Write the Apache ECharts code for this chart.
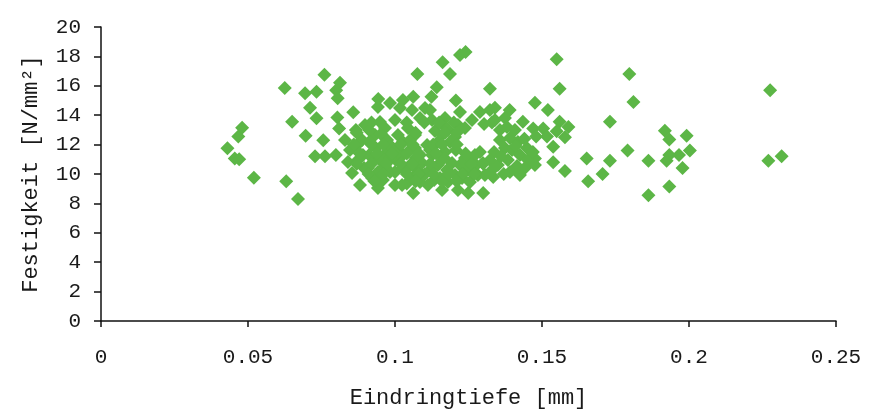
<!DOCTYPE html>
<html><head><meta charset="utf-8">
<script src="https://cdn.jsdelivr.net/npm/echarts@6/dist/echarts.min.js"></script>
<style>html,body{margin:0;padding:0;background:#fff}#c{width:885px;height:409px}</style>
</head><body><div id="c"></div>
<script>
const xTicks = [0, 0.05, 0.1, 0.15, 0.2, 0.25];
const yTicks = [0, 2, 4, 6, 8, 10, 12, 14, 16, 18, 20];
const xTitle = 'Eindringtiefe [mm]';
const yTitle = 'Festigkeit [N/mm²]';

const eindringtiefe = [
 0.043,0.0455,0.047,0.0467,0.048,0.052,0.0625,0.065,0.063,0.067,
 0.0694,0.0733,0.076,0.0813,0.080,0.0805,0.0711,0.0733,0.0804,0.081,0.0858,0.0943,0.0696,0.0756,0.0728,0.0762,0.0799,
 0.124,0.1221,0.1162,0.1076,0.1187,0.155,0.156,0.1323,0.1142,0.1062,0.1124,0.1207,0.134,0.1476,0.152,
 0.1652,0.1657,0.1578,0.1538,0.1476,0.1334,0.1249,0.130,0.1062,0.104,0.1578,0.1538,
 0.139,0.159,0.156,0.155,0.1435,0.147,0.1504,0.1517,0.148,0.133,
 0.1797,0.1811,0.1731,0.2276,0.227,0.2315,0.1918,0.1933,0.1992,0.2003,0.1966,0.1933,0.1924,0.1978,0.1862,0.1791,0.1731,0.1706,0.1933,0.1862,
 0.083,0.0847,0.084,0.0854,0.0881,0.0867,0.0898,0.0888,0.0891,0.0895,0.0922,0.0932,0.0935,0.0929,
 0.0966,0.0973,0.0969,0.0966,0.0959,0.1,0.101,0.1007,0.1003,0.1,0.1024,0.0942,0.0983,0.1027,0.1058,
 0.1044,0.1051,0.1044,0.1051,0.1058,0.1085,0.1109,0.1085,0.1092,0.1102,0.1112,0.1126,0.1136,0.1146,0.1126,0.1146,0.1153,0.116,
 0.117,0.118,0.1187,0.117,0.1194,0.1204,0.1214,0.1221,0.1214,0.1238,0.1248,0.1255,0.1262,0.1204,
 0.1289,0.1303,0.1289,0.1299,0.1306,0.1337,0.135,0.1374,0.1374,0.1384,0.1391,0.1408,0.1418,0.1425,0.1415,0.1449,0.1452,0.1357,
 0.0871,0.0874,0.0912,0.0912,0.0912,0.0908,0.0949,0.0952,0.0949,0.0942,0.0986,0.0986,0.0983,0.1,0.1027,0.1027,0.1027,0.0942,
 0.1068,0.1068,0.1071,0.1075,0.1085,0.1119,0.1126,0.1133,0.1163,0.116,0.1167,0.1177,0.118,0.1207,0.1221,0.1228,0.1238,0.1276,0.1282,0.1272,
 0.1323,0.133,0.134,0.1357,0.1391,0.1398,0.1425,0.1442,0.1469,0.1476,
 0.1102,0.1119,0.1017,0.1323,0.1381,
 0.092,0.104,0.110,0.115,0.120,
 0.087,0.107,0.117,0.121,
 0.086,0.092,0.096,0.102,0.106,0.113,0.116,0.121,
 0.088,0.094,0.099,0.104,0.108,0.114,0.124,
 0.087,0.092,0.097,0.102,0.106,0.112,0.126,0.130,
 0.091,0.096,0.104,0.108,0.113,0.118,0.123,0.127,
 0.093,0.107,0.116,0.121,
 0.136,0.141,0.144,0.137
];
const festigkeit = [
 11.75,11.05,11.0,12.55,13.15,9.75,15.85,13.55,9.5,8.3,
 15.5,15.6,16.75,16.2,15.7,15.15,14.5,13.8,13.85,13.1,14.2,15.1,12.6,12.3,11.2,11.2,11.3,
 18.3,18.1,17.6,16.8,16.8,17.8,15.8,15.8,15.9,15.25,15.25,15.0,14.5,14.85,14.35,
 11.05,9.5,10.2,10.8,11.05,9.8,8.7,8.7,8.7,9.35,12.5,11.85,
 14.35,13.2,13.55,12.9,13.55,13.1,13.1,12.55,12.55,13.5,
 16.8,14.9,13.55,15.7,10.9,11.2,12.95,12.35,12.6,11.6,11.3,11.3,10.9,10.4,10.9,11.6,10.9,10.0,9.15,8.55,
 12.31,11.63,10.82,10.07,9.25,12.99,13.33,12.31,11.29,10.41,9.73,12.65,11.77,10.95,
 13.13,12.31,11.43,10.54,9.59,13.67,12.65,11.77,10.95,10.14,9.25,14.56,14.83,15.03,14.35,
 13.13,12.31,11.5,10.61,9.73,13.81,11.97,11.29,10.75,10.0,9.25,13.67,12.93,12.18,11.29,10.61,9.73,8.91,
 13.81,12.99,12.18,11.5,10.75,9.93,8.91,14.22,13.33,11.09,10.27,9.46,13.67,12.52,
 14.22,13.4,11.5,10.75,9.93,11.5,10.61,13.81,11.77,10.95,10.14,12.99,12.18,11.29,10.54,11.77,10.95,12.31,
 11.97,10.95,12.99,12.18,11.29,10.41,13.54,12.72,10.95,10.14,11.9,11.09,10.14,9.25,12.18,11.29,10.41,9.05,
 12.65,11.77,11.09,10.27,9.46,11.63,10.41,9.59,13.33,12.65,11.09,10.27,9.46,11.63,10.61,9.73,13.13,10.61,9.93,11.29,
 10.95,10.27,13.67,12.99,12.45,11.63,9.93,10.41,11.5,10.61,
 14.49,14.35,14.49,14.35,13.2,
 13.5,13.5,13.5,13.5,13.5,
 12.8,12.8,12.8,12.8,
 12.0,12.0,12.0,12.0,12.0,12.0,12.0,12.0,
 11.4,11.4,11.4,11.4,11.4,11.4,11.4,
 10.7,10.7,10.7,10.7,10.7,10.7,10.7,10.7,
 10.0,10.0,10.0,10.0,10.0,10.0,10.0,10.0,
 9.5,9.5,9.5,9.5,
 11.2,11.9,12.4,10.0
];

const points = eindringtiefe.map((x, i) => [x, festigkeit[i]]);
const font = 'Liberation Mono';
const chart = echarts.init(document.getElementById('c'), null, {renderer: 'canvas'});
chart.setOption({
  animation: false,
  backgroundColor: '#ffffff',
  grid: {left: 101, right: 49, top: 27, bottom: 88, containLabel: false, outerBoundsMode: 'none'},
  xAxis: {
    type: 'value', min: xTicks[0], max: xTicks[xTicks.length - 1], interval: 0.05,
    name: xTitle, nameLocation: 'middle', nameGap: 66,
    nameTextStyle: {fontFamily: font, fontSize: 22, color: '#1a1a1a'},
    axisLine: {show: true, lineStyle: {color: '#111', width: 1.5}},
    axisTick: {show: true, length: 6, lineStyle: {color: '#111', width: 1.5}},
    axisLabel: {fontFamily: font, fontSize: 21, color: '#1a1a1a', margin: 26,
      formatter: v => String(parseFloat(v.toFixed(2)))},
    splitLine: {show: false}
  },
  yAxis: {
    type: 'value', min: yTicks[0], max: yTicks[yTicks.length - 1], interval: 2,
    name: yTitle, nameLocation: 'middle', nameGap: 59,
    nameTextStyle: {fontFamily: font, fontSize: 22, color: '#1a1a1a'},
    axisLine: {show: true, lineStyle: {color: '#111', width: 1.5}},
    axisTick: {show: true, length: 7, lineStyle: {color: '#111', width: 1.5}},
    axisLabel: {fontFamily: font, fontSize: 21, color: '#1a1a1a', margin: 20},
    splitLine: {show: false}
  },
  series: [{
    type: 'scatter', data: points, symbol: 'diamond', symbolSize: 14,
    itemStyle: {color: '#5cb646', opacity: 1}
  }]
});
</script></body></html>
